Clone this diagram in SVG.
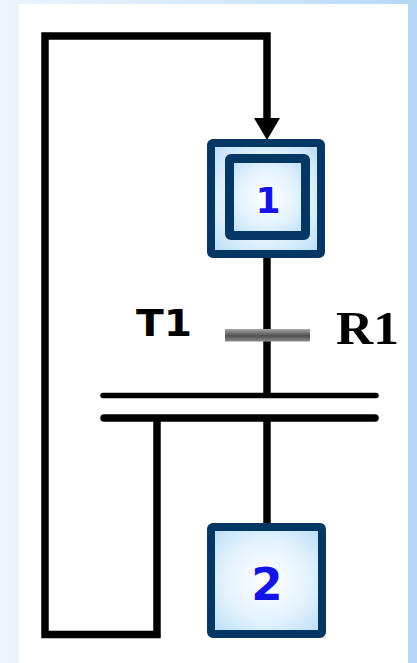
<svg xmlns="http://www.w3.org/2000/svg" width="417" height="663" viewBox="0 0 417 663">
  <defs>
    <linearGradient id="bg" x1="0" y1="0" x2="1" y2="0">
      <stop offset="0" stop-color="#ecf4fd"/>
      <stop offset="0.5" stop-color="#d6e9fa"/>
      <stop offset="1" stop-color="#b4d7f5"/>
    </linearGradient>
    <radialGradient id="stepFill" cx="0.5" cy="0.5" r="0.7">
      <stop offset="0" stop-color="#ffffff"/>
      <stop offset="0.55" stop-color="#e2f2fd"/>
      <stop offset="1" stop-color="#b6dcf7"/>
    </radialGradient>
    <linearGradient id="barFill" x1="0" y1="0" x2="0" y2="1">
      <stop offset="0" stop-color="#a8a8a8"/>
      <stop offset="0.55" stop-color="#4e4e4e"/>
      <stop offset="1" stop-color="#8e8e8e"/>
    </linearGradient>
    <style>
      .box { fill: url(#stepFill); stroke: #053764; stroke-width: 8; }
      .inner { fill: url(#stepFill); stroke: #053764; stroke-width: 9; }
      .wire { fill: none; stroke: #000; stroke-width: 7.5; stroke-linejoin: miter; }
      .num { font-family: "DejaVu Sans", Verdana, sans-serif; font-weight: bold; fill: #1414e8; text-anchor: middle; }
      .lbl { font-family: "DejaVu Sans", Verdana, sans-serif; font-weight: bold; fill: #000; }
      .cond { font-family: "Liberation Serif", "Times New Roman", serif; font-weight: bold; fill: #000; }
    </style>
  </defs>

  <!-- backdrop and white sheet -->
  <rect x="0" y="0" width="417" height="663" fill="url(#bg)"/>
  <rect x="19" y="4" width="389" height="659" fill="#ffffff"/>

  <!-- connectors -->
  <g id="connectors">
    <!-- loop back from the branch to step 1 -->
    <polyline class="wire" points="157,418 157,634.5 45,634.5 45,36 267,36 267,122"/>
    <polygon points="254,118 280,118 267,140" fill="#000"/>
    <!-- step 1 to the double bar -->
    <line class="wire" x1="267" y1="256" x2="267" y2="396"/>
    <!-- double bar to step 2 -->
    <line class="wire" x1="267" y1="418" x2="267" y2="525"/>
    <!-- parallel (double) bar -->
    <line x1="103" y1="395.5" x2="376" y2="395.5" stroke="#000" stroke-width="5.5" stroke-linecap="round"/>
    <line x1="104" y1="418" x2="375" y2="418" stroke="#000" stroke-width="7.5" stroke-linecap="round"/>
  </g>

  <!-- initial step 1 -->
  <g id="step1">
    <rect class="box" x="211" y="143" width="110" height="111" rx="2"/>
    <rect class="inner" x="229.5" y="158.5" width="76" height="77" rx="1.5"/>
    <text class="num" x="268" y="213" font-size="36">1</text>
  </g>

  <!-- transition T1 with receptivity R1 -->
  <g id="transitionT1">
    <rect x="225" y="329" width="85" height="12.5" fill="url(#barFill)"/>
    <text class="lbl" x="136" y="336" font-size="37" textLength="56" lengthAdjust="spacingAndGlyphs">T1</text>
    <text class="cond" x="336" y="344" font-size="46" textLength="63" lengthAdjust="spacingAndGlyphs">R1</text>
  </g>

  <!-- step 2 -->
  <g id="step2">
    <rect class="box" x="211" y="527" width="111" height="107" rx="2"/>
    <text class="num" x="267" y="600" font-size="45">2</text>
  </g>
</svg>
